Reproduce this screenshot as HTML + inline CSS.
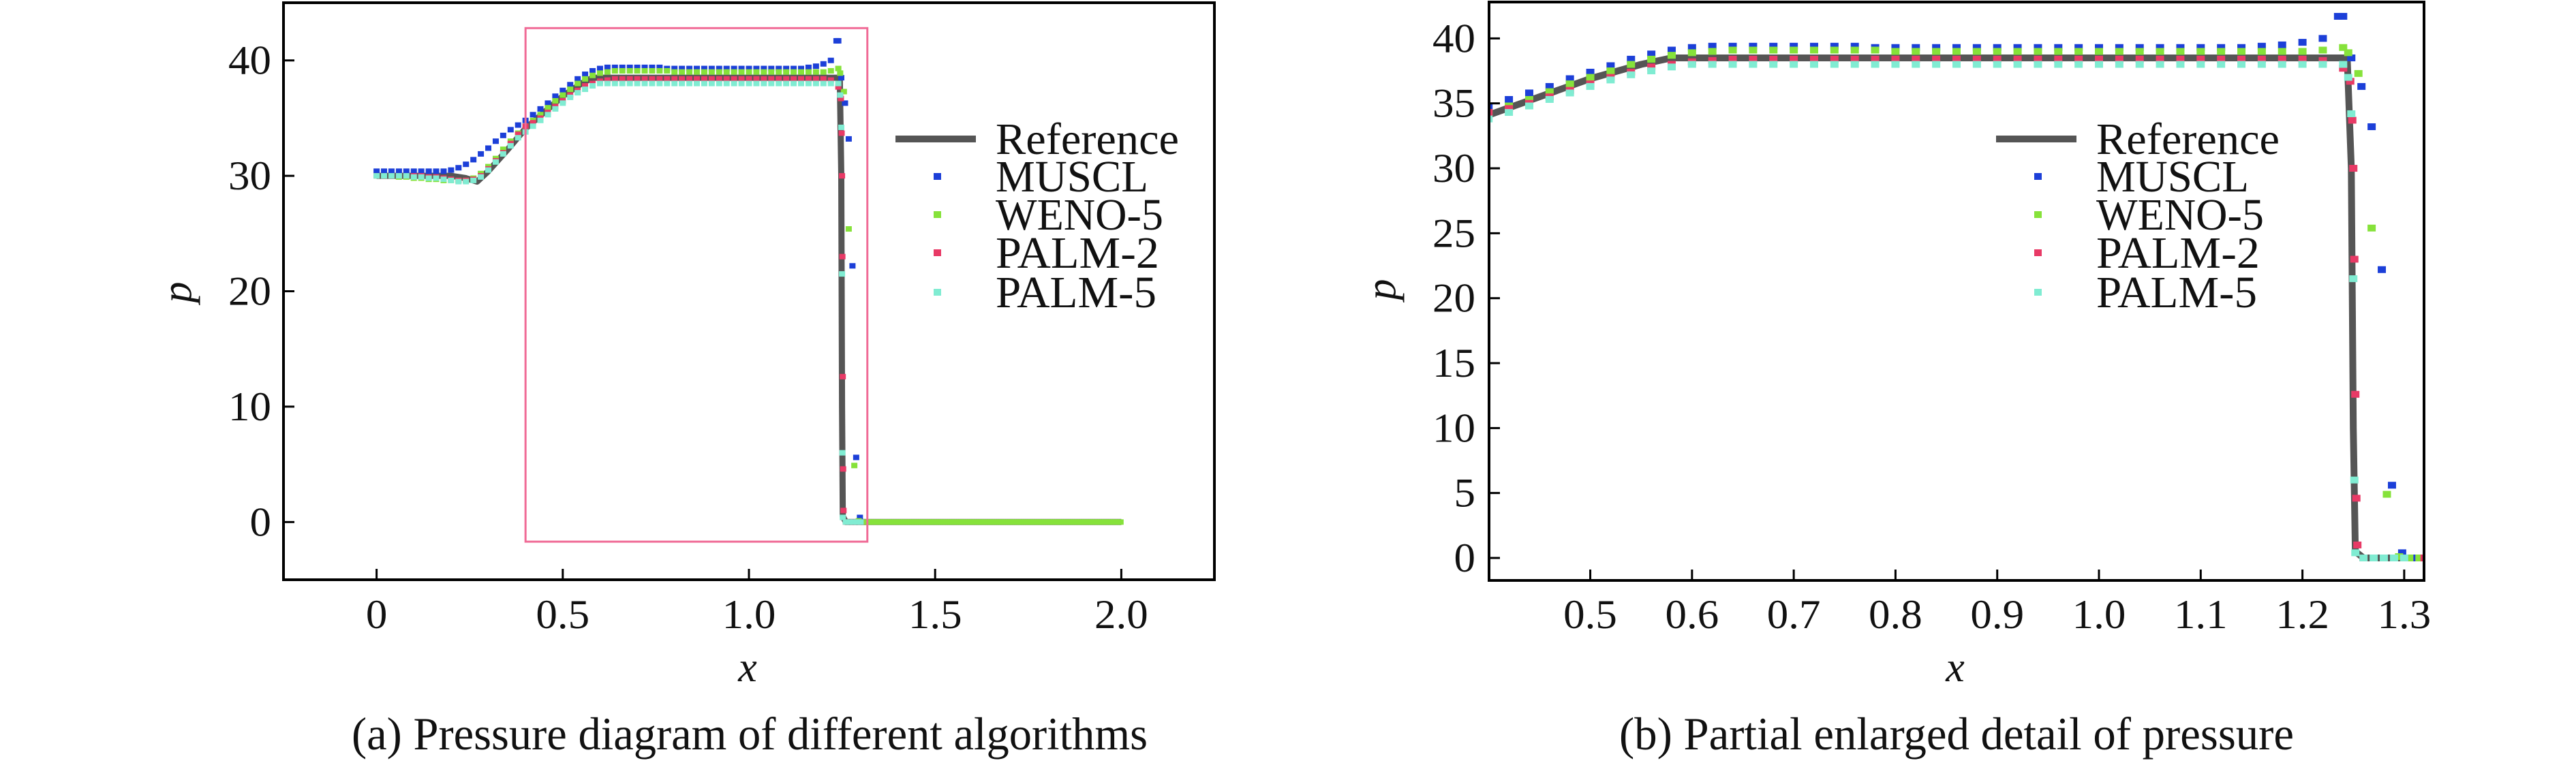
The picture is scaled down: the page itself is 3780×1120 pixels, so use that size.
<!DOCTYPE html>
<html><head><meta charset="utf-8">
<style>
html,body{margin:0;padding:0;background:#fff;}
svg{display:block;}
text{font-family:"Liberation Serif",serif;fill:#111;}
</style></head>
<body>
<svg id="fig" width="3780" height="1120" viewBox="0 0 3780 1120" xmlns="http://www.w3.org/2000/svg">
  <g id="panelA"></g>
  <g id="panelB"></g>
</svg>
<script>
// ---------- data ----------
const gridStep = 0.02; // base sampling grid 0..1.24
const muscl = [30.4,30.4,30.4,30.4,30.4,30.4,30.4,30.4,30.4,30.4,
  30.5,30.7,31.0,31.4,31.9,32.4,33.0,33.5,34.0,34.4,
  34.8,35.3,35.8,36.3,36.9,37.4,37.9,38.4,38.8,39.1,
  39.3,39.4,39.4,39.4,39.4,39.4,39.4,39.4,39.4,39.3,
  39.3,39.3,39.3,39.3,39.3,39.3,39.3,39.3,39.3,39.3,
  39.3,39.3,39.3,39.3,39.3,39.3,39.3,39.3,39.4,39.5,
  39.7,40.0,41.7];
const weno5 = [30.0,30.0,30.0,29.9,29.9,29.8,29.8,29.7,29.7,29.6,
  29.6,29.6,29.6,29.8,30.2,30.8,31.5,32.3,33.0,33.7,
  34.3,34.8,35.3,35.9,36.5,37.0,37.5,38.0,38.4,38.7,
  38.9,39.0,39.1,39.1,39.1,39.1,39.1,39.1,39.1,39.1,
  39.0,39.0,39.0,39.0,39.0,39.0,39.0,39.0,39.0,39.0,
  39.0,39.0,39.0,39.0,39.0,39.0,39.0,39.0,39.0,39.0,
  39.0,39.1,39.3];
const palm2 = [30.0,30.0,30.0,30.0,30.0,30.0,30.0,29.9,29.9,29.8,
  29.7,29.6,29.6,29.7,30.0,30.6,31.3,32.0,32.8,33.6,
  34.3,34.6,35.0,35.5,36.0,36.5,37.0,37.4,37.8,38.0,
  38.2,38.3,38.4,38.4,38.4,38.4,38.4,38.4,38.4,38.4,
  38.4,38.4,38.4,38.4,38.4,38.4,38.4,38.4,38.4,38.4,
  38.4,38.4,38.4,38.4,38.4,38.4,38.4,38.4,38.4,38.4,
  38.4,38.3,37.7];
const palm5 = [30.0,30.0,30.0,30.0,30.0,29.9,29.9,29.8,29.8,29.7,
  29.6,29.5,29.5,29.6,29.9,30.5,31.2,31.9,32.6,33.3,
  33.8,34.3,34.8,35.3,35.8,36.3,36.8,37.2,37.5,37.8,
  38.0,38.0,38.0,38.0,38.0,38.0,38.0,38.0,38.0,38.0,
  38.0,38.0,38.0,38.0,38.0,38.0,38.0,38.0,38.0,38.0,
  38.0,38.0,38.0,38.0,38.0,38.0,38.0,38.0,38.0,38.0,
  38.0,38.0,38.0];
const musclTailX = [1.235,1.248,1.258,1.268,1.278,1.288,1.298,1.31,1.32];
const musclTailP = [41.7,38.5,36.3,33.2,22.2,5.6,0.4,0.0,0.0];
const wenoTailX = [1.245,1.255,1.268,1.283,1.295,1.305,1.315];
const wenoTailP = [38.9,37.3,25.4,4.9,0.1,0.0,0.0];
const palm2TailX = [1.247,1.249,1.250,1.251,1.252,1.253,1.254,1.26,1.28,1.30,1.32];
const palm2TailP = [36.7,33.7,30.0,23.0,12.6,4.6,1.0,0.0,0.0,0.0,0.0];
const palm5TailX = [1.245,1.248,1.250,1.251,1.252,1.26,1.27,1.28,1.29,1.30];
const palm5TailP = [37.0,34.2,21.5,6.0,0.4,0.0,0.0,0.0,0.0,0.0];
const farFieldStart = 1.32, farFieldEnd = 2.0, farFieldP = 0;
const refX = [0,0.2,0.24,0.27,0.3,0.35,0.4,0.45,0.5,0.55,0.58,0.6,1.244,1.248,1.250,1.252,1.26,2.0];
const refP = [30,30,29.8,29.5,30.4,32.2,34.1,35.5,36.9,38.0,38.5,38.5,38.5,30,10,0.5,0,0];

const seriesNames = ["MUSCL","WENO-5","PALM-2","PALM-5"];
const seriesColors = ["#1c3fd8","#86e23a","#e83a66","#80ecd2"];
const aXTicks = [0,0.5,1.0,1.5,2.0];
const aXTickLabels = ["0","0.5","1.0","1.5","2.0"];
const aYTicks = [0,10,20,30,40];
const bXTicks = [0.5,0.6,0.7,0.8,0.9,1.0,1.1,1.2,1.3];
const bXTickLabels = ["0.5","0.6","0.7","0.8","0.9","1.0","1.1","1.2","1.3"];
const bYTicks = [0,5,10,15,20,25,30,35,40];
const zoomBox = {x0:0.4, x1:1.318, y0:-1.7, y1:42.8};

// ---------- helpers ----------
const NS = "http://www.w3.org/2000/svg";
function mk(tag, parent, attrs){
  const e = document.createElementNS(NS, tag);
  for (const k in attrs) e.setAttribute(k, attrs[k]);
  parent.appendChild(e);
  return e;
}
function txt(parent, x, y, s, anchor, size, sx){
  const t = mk("text", parent, {transform:`translate(${x},${y}) scale(${sx},1)`, "text-anchor":anchor, "font-size":size});
  t.textContent = s;
  return t;
}
function seriesPoints(vals, tx, tp){
  const pts = [];
  vals.forEach((v,i)=>pts.push([+(i*gridStep).toFixed(3), v]));
  tx.forEach((x,i)=>pts.push([x, tp[i]]));
  return pts;
}

function drawPanel(g, cfg){
  const sx = v => cfg.L + (v - cfg.xmin)/(cfg.xmax-cfg.xmin)*(cfg.R-cfg.L);
  const sy = v => cfg.B - (v - cfg.ymin)/(cfg.ymax-cfg.ymin)*(cfg.B-cfg.T);
  const clipId = cfg.id + "clip";
  const defs = mk("defs", g, {});
  const cp = mk("clipPath", defs, {id:clipId});
  mk("rect", cp, {x:cfg.L, y:cfg.T, width:cfg.R-cfg.L, height:cfg.B-cfg.T});
  const plot = mk("g", g, {"clip-path":`url(#${clipId})`});
  
  

  let d = refX.map((x,i)=>(i?"L":"M")+sx(x).toFixed(1)+","+sy(refP[i]).toFixed(1)).join("");
  const ref = mk("path", plot, {d:d, fill:"none", stroke:"#555", "stroke-width":cfg.lw, "stroke-linejoin":"round"});
  
  

  const all = [
    seriesPoints(muscl, musclTailX, musclTailP),
    seriesPoints(weno5, wenoTailX, wenoTailP),
    seriesPoints(palm2, palm2TailX, palm2TailP),
    seriesPoints(palm5, palm5TailX, palm5TailP)
  ];
  all.forEach((pts, si)=>{
    const sg = mk("g", plot, {fill:seriesColors[si]});
    
    
    pts.forEach(p=>{
      const r = mk("rect", sg, {x:sx(p[0])-cfg.mw/2, y:sy(p[1])-cfg.mh/2, width:cfg.mw, height:cfg.mh});
      
      
    });
  });
  if (cfg.far){
    const fg = mk("g", plot, {fill:seriesColors[1]});
    
    
    for (let x=farFieldStart; x<=farFieldEnd+1e-9; x+=0.006){
      const r = mk("rect", fg, {x:sx(x)-cfg.mw/2, y:sy(farFieldP)-cfg.mh/2, width:cfg.mw, height:cfg.mh});
      
      
    }
  }

  if (cfg.box){
    const zb = mk("rect", g, {x:sx(zoomBox.x0), y:sy(zoomBox.y1), width:sx(zoomBox.x1)-sx(zoomBox.x0), height:sy(zoomBox.y0)-sy(zoomBox.y1), fill:"none", stroke:"#f06a96", "stroke-width":3});
    
    
  }

  const fr = mk("rect", g, {x:cfg.L, y:cfg.T, width:cfg.R-cfg.L, height:cfg.B-cfg.T, fill:"none", stroke:"#000", "stroke-width":4});
  
  

  const xg = mk("g", g, {});
  
  
  cfg.xt.forEach((v,i)=>{
    mk("line", xg, {x1:sx(v), x2:sx(v), y1:cfg.B, y2:cfg.B-16, stroke:"#000", "stroke-width":3});
    const t = txt(xg, sx(v), 922, cfg.xl[i], "middle", 60, 1.05);
    
    
  });
  const yg = mk("g", g, {});
  
  
  cfg.yt.forEach(v=>{
    mk("line", yg, {x1:cfg.L, x2:cfg.L+16, y1:sy(v), y2:sy(v), stroke:"#000", "stroke-width":3});
    const t = txt(yg, cfg.ylx, sy(v)+20, String(v), "end", 60, 1.05);
    
    
  });
  const xl = mk("text", g, {x:cfg.xlabX, y:1000, "text-anchor":"middle", "font-size":62, "font-style":"italic"});
  xl.textContent = "x";
  
  
  const yl = mk("text", g, {transform:`translate(${cfg.ylabX},${cfg.ylabY}) rotate(-90)`, "text-anchor":"middle", "font-size":62, "font-style":"italic"});
  yl.textContent = "p";
  
  

  const lg = mk("g", g, {});
  
  
  const rows = [204,259,315,371,429];
  mk("line", lg, {x1:cfg.legL, x2:cfg.legL+118, y1:rows[0], y2:rows[0], stroke:"#555", "stroke-width":10});
  const lw = [269,224,246,240,236];
  ["Reference"].concat(seriesNames).forEach((n,i)=>{
    if (i>0) mk("rect", lg, {x:cfg.legL+56, y:rows[i]-5, width:11, height:10, fill:seriesColors[i-1]});
    const t = mk("text", lg, {x:cfg.legL+147, y:rows[i]+22, "font-size":66, textLength:lw[i], lengthAdjust:"spacingAndGlyphs"});
    t.textContent = n;
    
    
  });

  const cap = mk("text", g, {x:cfg.capX, y:1100, "text-anchor":"middle", "font-size":68, textLength:cfg.capW, lengthAdjust:"spacingAndGlyphs"});
  cap.textContent = cfg.caption;
  
  
}

drawPanel(document.getElementById("panelA"), {
  id:"a", L:416, R:1782, T:4, B:851, xmin:-0.25, xmax:2.25, ymin:-5, ymax:45,
  xt:aXTicks, xl:aXTickLabels, yt:aYTicks, ylx:398, mw:9, mh:8, lw:9, far:true, box:true,
  xlabX:1097, ylabX:280, ylabY:429, legL:1314,
  capX:1100, capW:1168, caption:"(a) Pressure diagram of different algorithms"
});
drawPanel(document.getElementById("panelB"), {
  id:"b", L:2185, R:3557, T:3, B:852, xmin:0.4005, xmax:1.3195, ymin:-1.73, ymax:42.8,
  xt:bXTicks, xl:bXTickLabels, yt:bYTicks, ylx:2165, mw:12, mh:10, lw:10, far:false, box:false,
  xlabX:2869, ylabX:2047, ylabY:425, legL:2929,
  capX:2871, capW:990, caption:"(b) Partial enlarged detail of pressure"
});
</script>
</body></html>
